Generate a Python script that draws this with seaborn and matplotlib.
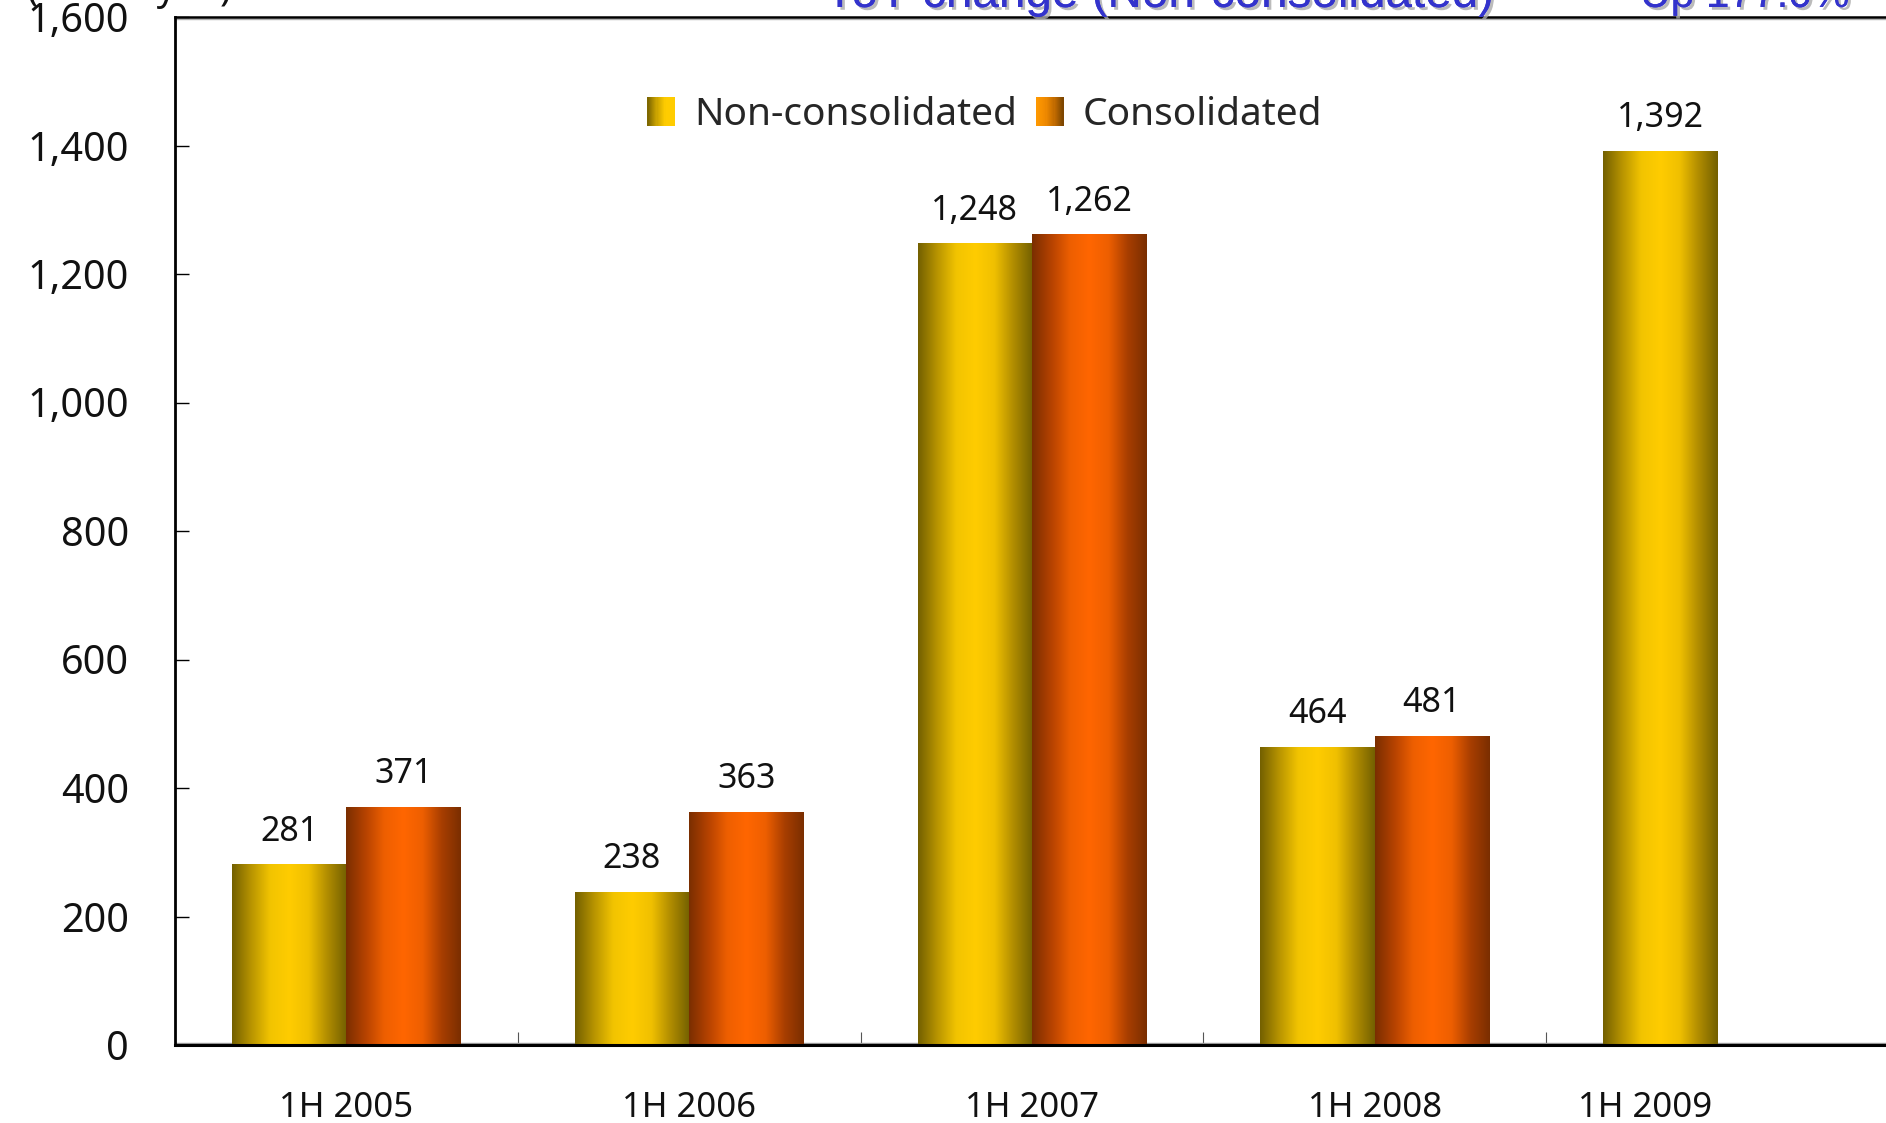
import numpy as np
import pandas as pd
import matplotlib
matplotlib.use("Agg")
import matplotlib.pyplot as plt
import seaborn as sns
from matplotlib.colors import LinearSegmentedColormap
from matplotlib.patches import Rectangle, Patch
from matplotlib.legend_handler import HandlerBase
from matplotlib.ticker import FuncFormatter, FixedLocator
from matplotlib.transforms import ScaledTranslation
import matplotlib.patheffects as pe

# ---- data -------------------------------------------------------------
periods = ["1H 2005", "1H 2006", "1H 2007", "1H 2008", "1H 2009"]
non_consolidated = [281, 238, 1248, 464, 1392]
consolidated = [371, 363, 1262, 481, np.nan]
series_names = ["Non-consolidated", "Consolidated"]
y_ticks = [0, 200, 400, 600, 800, 1000, 1200, 1400, 1600]

unit_label = "(Billion yen)"
yoy_title = "YoY change (Non-consolidated)"
yoy_value = "Up 177.0%"

df = pd.DataFrame({
    "period": periods * 2,
    "series": [series_names[0]] * len(periods) + [series_names[1]] * len(periods),
    "value": non_consolidated + consolidated,
}).dropna()

# ---- style ------------------------------------------------------------
sns.set_style("white")
plt.rcParams["font.family"] = ["Noto Sans", "DejaVu Sans"]

W, H = 1886, 1123
fig = plt.figure(figsize=(W / 100, H / 100), dpi=100)
ax_left, ax_right, ax_top, ax_bottom = 175, 1889, 17, 1045
ax = fig.add_axes([ax_left / W, 1 - ax_bottom / H,
                   (ax_right - ax_left) / W, (ax_bottom - ax_top) / H])

sns.barplot(data=df, x="period", y="value", hue="series",
            hue_order=series_names, order=periods, width=0.667, gap=0,
            saturation=1, errorbar=None, legend=False, ax=ax)

# cylinder-like horizontal shading for each series
shades = [
    ["#736000", "#b89400", "#f2c400", "#ffcc00", "#f0c000", "#b08c00", "#736000"],
    ["#7a2e00", "#b54200", "#ee5f00", "#ff6600", "#ee5f00", "#a83e00", "#7a2e00"],
]
grad = np.linspace(0, 1, 256)[None, :]
for i, container in enumerate(ax.containers):
    cmap = LinearSegmentedColormap.from_list(f"shade{i}", shades[i])
    for bar in container:
        h = bar.get_height()
        if not np.isfinite(h) or h <= 0:
            continue
        x, y = bar.get_xy()
        w = bar.get_width()
        bar.set_facecolor("none")
        bar.set_linewidth(0)
        im = ax.imshow(grad, cmap=cmap, extent=[x, x + w, y, y + h],
                       aspect="auto", origin="lower", interpolation="bilinear",
                       zorder=2)
        im.set_clip_path(bar)
        ax.annotate(f"{h:,.0f}", xy=(x + w / 2, h), xytext=(0, 17),
                    textcoords="offset points", ha="center", va="baseline",
                    fontsize=24.5, color="#111111", zorder=5)

# ---- axes -------------------------------------------------------------
ax.set_xlim(-0.5, len(periods) - 0.5)
ax.set_ylim(0, 1600)
ax.set_xlabel("")
ax.set_ylabel("")

ax.yaxis.set_major_locator(FixedLocator(y_ticks))
ax.yaxis.set_major_formatter(FuncFormatter(lambda v, _: f"{v:,.0f}"))
ax.tick_params(axis="y", which="major", direction="in", length=10, width=1.0,
               color="black", pad=33, labelsize=28.5, labelcolor="#111111",
               left=True)

ax.set_xticks(range(len(periods)))
ax.set_xticklabels(periods)
ax.tick_params(axis="x", which="major", length=0, pad=33, labelsize=25,
               labelcolor="#111111")
ax.xaxis.set_minor_locator(FixedLocator(np.arange(0.5, len(periods) - 1, 1.0)))
ax.tick_params(axis="x", which="minor", direction="in", length=9.5, width=0.8,
               color="#555555", bottom=True)

# last category label sits left of its slot
last = ax.get_xticklabels()[-1]
last.set_transform(last.get_transform() + ScaledTranslation(-0.73, 0, fig.dpi_scale_trans))

for side in ["left", "top", "bottom", "right"]:
    ax.spines[side].set_color("black")
ax.spines["left"].set_linewidth(2.0)
ax.spines["top"].set_linewidth(1.8)
ax.spines["bottom"].set_linewidth(2.2)
ax.spines["right"].set_visible(False)

# thin grey rules hugging the top and bottom frame lines
ax.axhline(1600 - 2.5, color="#b0b0b0", linewidth=1.0, zorder=1)
ax.axhline(2.5, color="#9a9a9a", linewidth=1.0, zorder=1)

# ---- legend -----------------------------------------------------------
legend_shades = [
    ["#7a6400", "#c9a200", "#ffcc00", "#ffcc00"],
    ["#ff9900", "#f08a00", "#c06a00", "#7a4400"],
]


class GradientHandler(HandlerBase):
    def __init__(self, colors):
        super().__init__()
        self.cmap = LinearSegmentedColormap.from_list("leg", colors)

    def create_artists(self, legend, orig_handle, xdescent, ydescent,
                       width, height, fontsize, trans):
        n = 24
        arts = []
        for k in range(n):
            r = Rectangle((-xdescent + width * k / n, -ydescent),
                          width / n * 1.05, height,
                          facecolor=self.cmap((k + 0.5) / n),
                          edgecolor="none", transform=trans)
            arts.append(r)
        return arts


handles = [Patch(), Patch()]
ax.legend(handles, series_names,
          handler_map={handles[0]: GradientHandler(legend_shades[0]),
                       handles[1]: GradientHandler(legend_shades[1])},
          loc="center", bbox_to_anchor=(985 / W, 1 - 115 / H),
          bbox_transform=fig.transFigure, ncol=2, frameon=False,
          fontsize=28, handlelength=0.7, handleheight=0.78,
          handletextpad=0.5, columnspacing=0.5, borderpad=0)

# ---- header texts (running off the top edge) --------------------------
fig.text(27 / W, 1.0, unit_label, fontsize=27, color="#111111",
         ha="left", va="baseline")
shadow = [pe.withSimplePatchShadow(offset=(2, -2), shadow_rgbFace="#aaaaaa", alpha=0.8),
          pe.Normal()]
fig.text(824 / W, 1 - 7 / H, yoy_title, fontsize=34.3, color="#3333cc",
         family=["Liberation Sans", "DejaVu Sans"], ha="left", va="baseline",
         path_effects=shadow)
fig.text(1640 / W, 1 - 7 / H, yoy_value, fontsize=30.5, color="#3333cc",
         family=["Liberation Sans", "DejaVu Sans"], ha="left", va="baseline",
         path_effects=shadow)

fig.savefig("out.png", dpi=100)
